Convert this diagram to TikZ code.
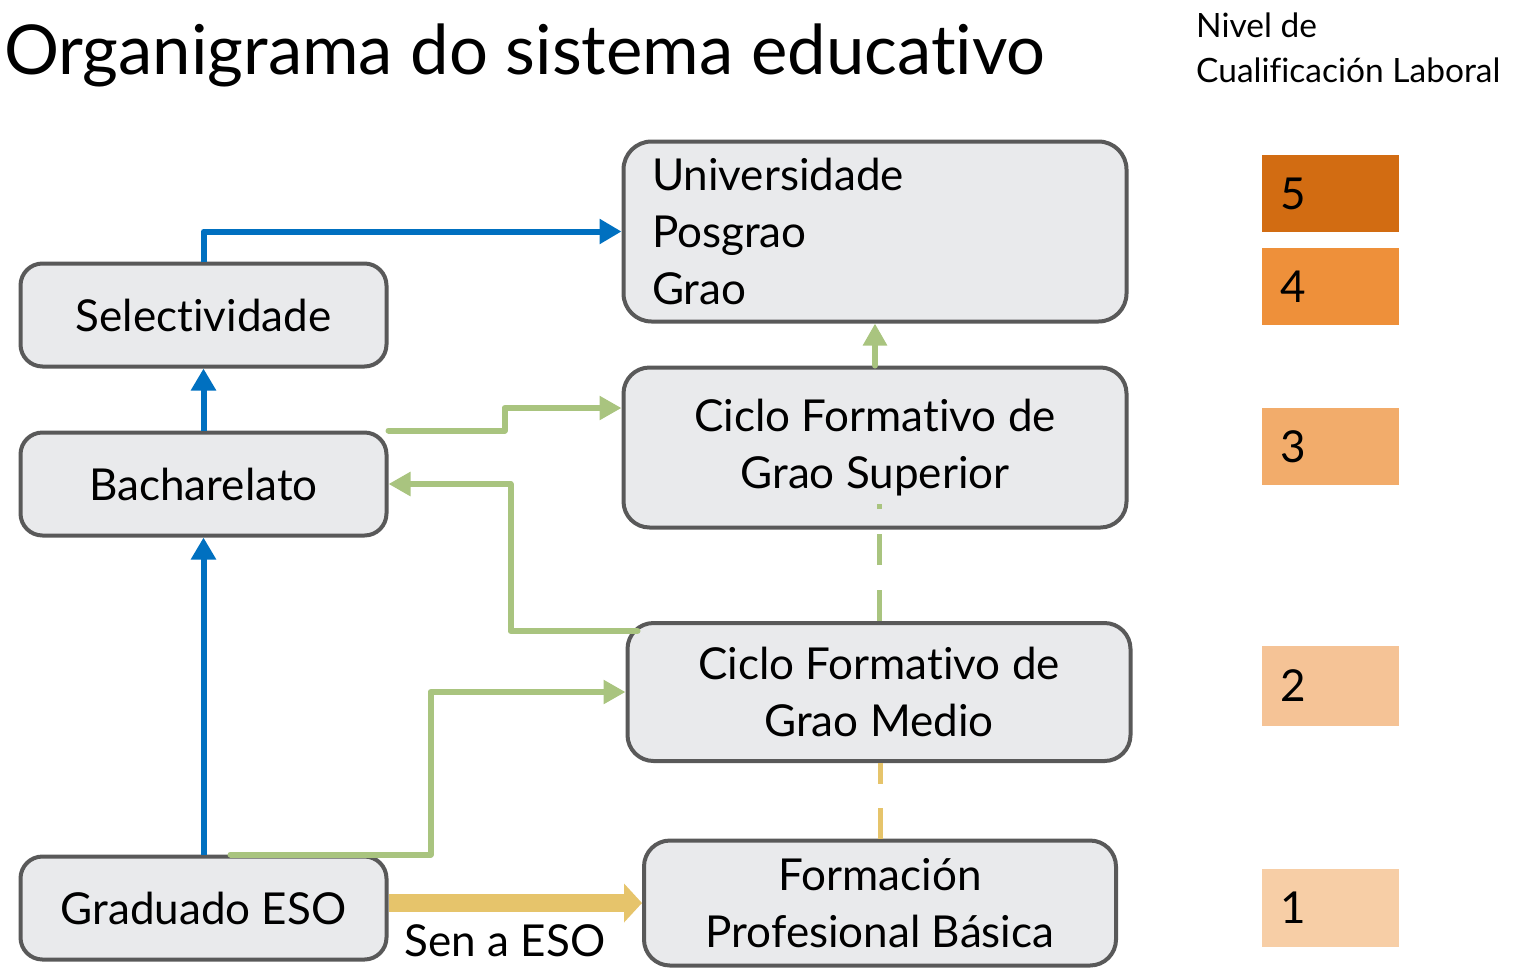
\documentclass[tikz,border=0pt]{standalone}
\usepackage{fontspec}
\setmainfont{Lato}[Ligatures={NoCommon}]
\usetikzlibrary{arrows.meta}
\definecolor{boxfill}{HTML}{E9EAEC}
\definecolor{boxline}{HTML}{595959}
\definecolor{eduBlue}{HTML}{0070C0}
\definecolor{eduGreen}{HTML}{A9C47F}
\definecolor{eduYellow}{HTML}{E6C46B}
\definecolor{lvlFive}{HTML}{D26C12}
\definecolor{lvlFour}{HTML}{EE903A}
\definecolor{lvlThree}{HTML}{F2AC6B}
\definecolor{lvlTwo}{HTML}{F5C396}
\definecolor{lvlOne}{HTML}{F7CEA6}
\begin{document}
\begin{tikzpicture}[x=1pt,y=-1pt,
  box/.style={draw=boxline, line width=4pt, fill=boxfill, rounded corners=22pt,
    inner sep=0pt, font=\fontsize{44}{57}\selectfont, align=center},
  blueconn/.style={draw=eduBlue, line width=6pt, line join=round,
    -{Triangle[length=22pt,width=24pt]}},
  greenconn/.style={draw=eduGreen, line width=6pt, line join=round, line cap=round,
    -{Triangle[length=22pt,width=23pt]}},
  greendash/.style={draw=eduGreen, line width=5pt, dash pattern=on 31pt off 25pt},
  yellowdash/.style={draw=eduYellow, line width=5pt, dash pattern=on 31pt off 24pt},
  yellowconn/.style={draw=eduYellow, line width=18pt,
    -{Triangle[length=18pt,width=38pt]}},
  level/.style={rectangle, inner ysep=0pt, inner xsep=18.5pt, text width=100pt,
    align=left, minimum width=137pt, font=\fontsize{44}{50}\selectfont},
  lbl/.style={inner sep=0pt}
]
\useasboundingbox (0,0) rectangle (1517,967);

% title and legend heading
\node[lbl, anchor=base west, font=\fontsize{68.8}{80}\selectfont] (title) at (4,74) {Organigrama do sistema educativo};
\node[lbl, anchor=base west, font=\fontsize{33.5}{40}\selectfont] (headA) at (1196,37) {Nivel de};
\node[lbl, anchor=base west, font=\fontsize{33.5}{40}\selectfont] (headB) at (1196,82) {Cualificación Laboral};

% boxes
\node[box, minimum width=366pt, minimum height=103pt] (sel) at (203.5,315) {Selectividade};
\node[box, minimum width=366pt, minimum height=103pt] (bach) at (203.5,484) {Bacharelato};
\node[box, minimum width=366pt, minimum height=103pt] (grad) at (203.5,908) {Graduado ESO};
\node[box, minimum width=503pt, minimum height=180pt, text width=446pt, align=left, rounded corners=28pt] (univ) at (875,231.5) {Universidade\\Posgrao\\Grao};
\node[box, minimum width=503pt, minimum height=160pt, rounded corners=26pt] (sup) at (875,447.5) {Ciclo Formativo de\\Grao Superior};
\node[box, minimum width=503pt, minimum height=138pt, rounded corners=26pt] (med) at (879,692) {Ciclo Formativo de\\Grao Medio};
\node[box, minimum width=472pt, minimum height=125pt, rounded corners=26pt] (bas) at (880,903) {Formación\\Profesional Básica};

% levels
\node[level, fill=lvlFive, minimum height=77pt] (l5) at (1330.5,193.5) {5};
\node[level, fill=lvlFour, minimum height=77pt] (l4) at (1330.5,286.5) {4};
\node[level, fill=lvlThree, minimum height=77pt] (l3) at (1330.5,446.5) {3};
\node[level, fill=lvlTwo, minimum height=80pt] (l2) at (1330.5,685.5) {2};
\node[level, fill=lvlOne, minimum height=78pt] (l1) at (1330.5,907.5) {1};

% connectors
\draw[blueconn] (grad.north) -- (bach.south);
\draw[blueconn] (bach.north) -- (sel.south);
\draw[blueconn] (sel.north) |- (univ.west);

\draw[greenconn] (bach.north east) -- ++(116,0) |- ([yshift=39.5pt]sup.west);
\draw[greenconn] ([xshift=12pt,yshift=-10pt]med.north west) -- ++(-127,0) |- (bach.east);
\draw[greenconn] ([xshift=27pt]grad.north) -- ++(200,0) |- (med.west);
\draw[greenconn] (sup.north) -- (univ.south);

\draw[greendash] (med.north) -- ++(0,-117);
\draw[yellowdash] (bas.north) -- (bas.north |- med.south);

\draw[yellowconn] (grad.east |- bas.west) -- (bas.west);
\node[lbl, anchor=base, font=\fontsize{44}{57}\selectfont] (sen) at (505,956) {Sen a ESO};
\end{tikzpicture}
\end{document}
